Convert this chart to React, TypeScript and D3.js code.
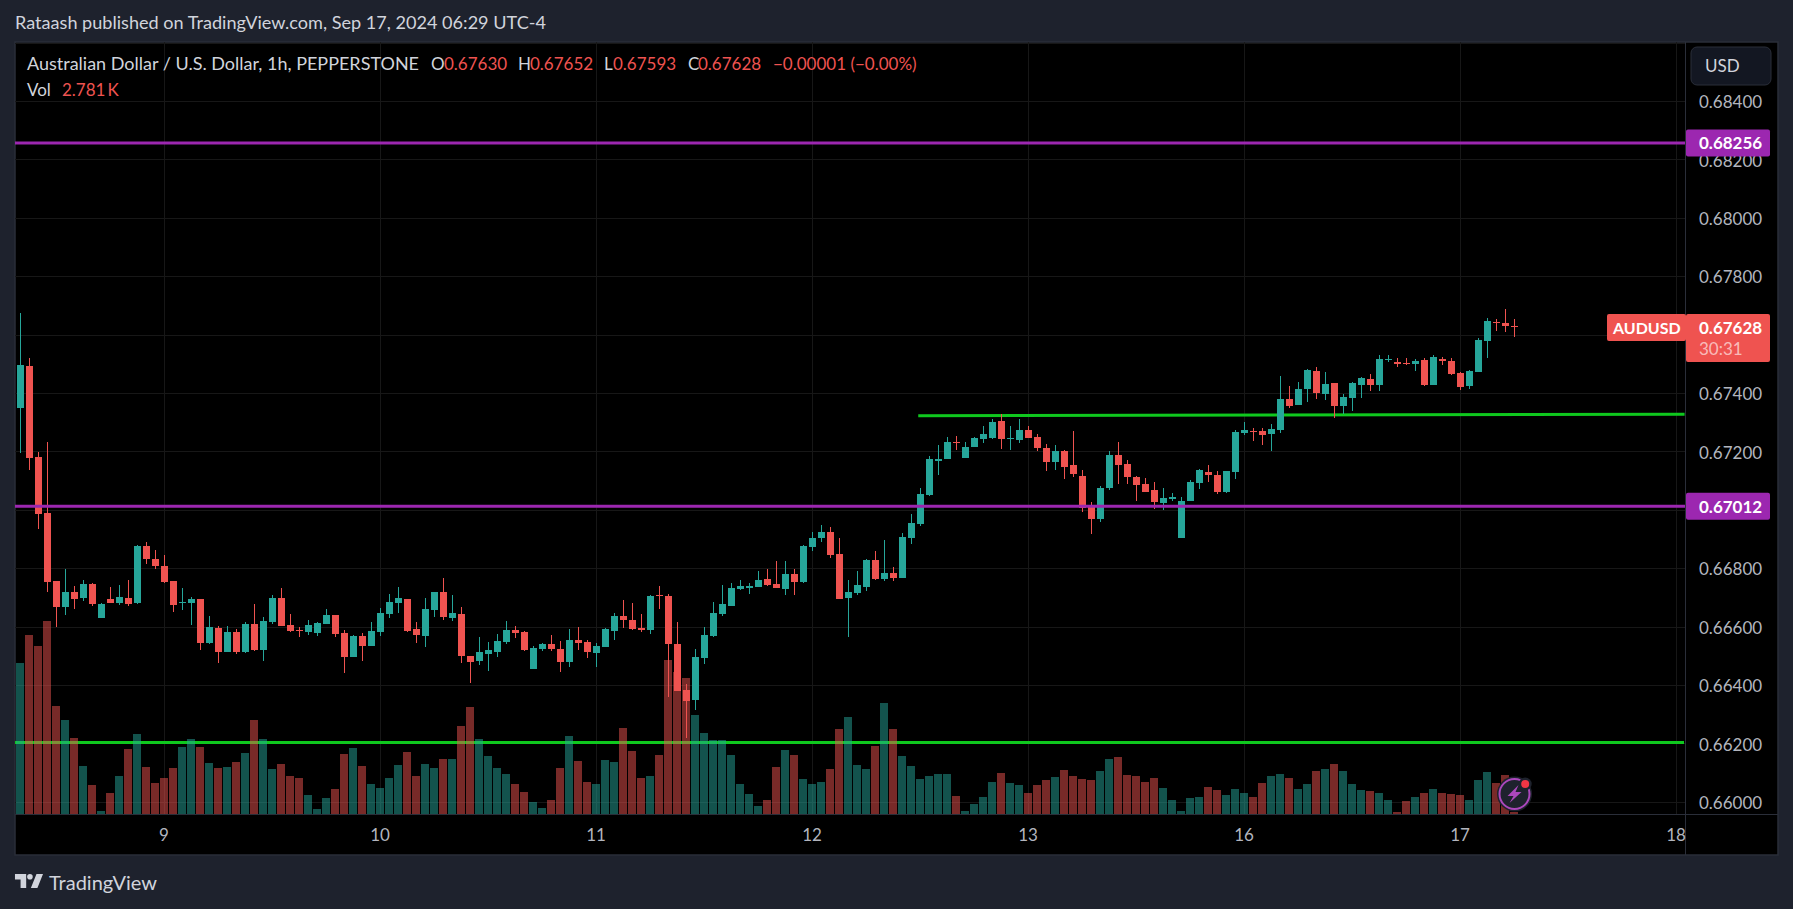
import React, { useRef, useEffect } from "react";
import * as d3 from "d3";

// prices are in points (1 point = 0.00001), one entry per hourly bar
const opens = [
  67350, 67493, 67181, 66989, 66755, 66667, 66719, 66698, 66746, 66630,
  66695, 66681, 66698, 66681, 66876, 66832, 66808, 66755, 66681, 66681,
  66695, 66544, 66595, 66513, 66582, 66513, 66609, 66520, 66616, 66698,
  66606, 66589, 66582, 66578, 66609, 66640, 66578, 66496, 66568, 66534,
  66582, 66643, 66681, 66695, 66592, 66568, 66657, 66719, 66630, 66643,
  66500, 66482, 66506, 66513, 66548, 66589, 66582, 66455, 66524, 66541,
  66524, 66479, 66554, 66548, 66510, 66530, 66585, 66637, 66623, 66595,
  66589, 66709, 66705, 66541, 66383, 66349, 66493, 66568, 66643, 66671,
  66729, 66732, 66736, 66763, 66746, 66729, 66780, 66753, 66873, 66904,
  66924, 66849, 66698, 66715, 66736, 66828, 66763, 66784, 66767, 66904,
  66952, 67051, 67167, 67174, 67233, 67178, 67215, 67243, 67246, 67304,
  67243, 67239, 67274, 67250, 67212, 67164, 67202, 67154, 67116, 67010,
  66969, 67075, 67188, 67157, 67113, 67089, 67068, 67024, 67037, 66904,
  67030, 67092, 67130, 67120, 67061, 67130, 67263, 67270, 67270, 67260,
  67274, 67380, 67359, 67414, 67476, 67397, 67434, 67356, 67383, 67428,
  67448, 67428, 67513, 67507, 67503, 67500, 67513, 67428, 67517, 67510,
  67469, 67424, 67472, 67578, 67644, 67640, 67630,
];
const highs = [
  67673, 67519, 67197, 67232, 66756, 66797, 66739, 66760, 66749, 66681,
  66736, 66743, 66760, 66880, 66890, 66863, 66846, 66756, 66732, 66702,
  66696, 66637, 66602, 66602, 66592, 66616, 66678, 66633, 66709, 66732,
  66643, 66599, 66623, 66616, 66661, 66641, 66589, 66572, 66578, 66616,
  66664, 66712, 66736, 66696, 66616, 66698, 66720, 66767, 66709, 66667,
  66501, 66565, 66548, 66575, 66619, 66602, 66585, 66534, 66544, 66572,
  66551, 66592, 66599, 66554, 66544, 66595, 66647, 66691, 66681, 66643,
  66709, 66739, 66712, 66616, 66404, 66524, 66599, 66685, 66743, 66750,
  66760, 66750, 66791, 66798, 66825, 66825, 66798, 66880, 66924, 66948,
  66941, 66904, 66760, 66791, 66832, 66859, 66897, 66804, 66921, 66986,
  67075, 67185, 67222, 67250, 67253, 67233, 67250, 67287, 67311, 67328,
  67287, 67311, 67287, 67260, 67226, 67222, 67205, 67270, 67137, 67027,
  67082, 67202, 67233, 67171, 67116, 67109, 67096, 67075, 67058, 67044,
  67102, 67140, 67154, 67133, 67133, 67274, 67301, 67281, 67281, 67294,
  67459, 67424, 67438, 67483, 67489, 67472, 67435, 67397, 67438, 67455,
  67465, 67531, 67531, 67520, 67520, 67517, 67520, 67531, 67524, 67520,
  67472, 67479, 67589, 67657, 67654, 67688, 67652,
];
const lows = [
  67196, 67137, 66935, 66720, 66597, 66640, 66661, 66688, 66671, 66630,
  66680, 66674, 66671, 66678, 66815, 66798, 66750, 66650, 66657, 66606,
  66520, 66541, 66476, 66513, 66506, 66510, 66517, 66482, 66609, 66601,
  66582, 66565, 66572, 66568, 66609, 66565, 66441, 66495, 66482, 66533,
  66568, 66630, 66647, 66582, 66544, 66530, 66633, 66623, 66619, 66476,
  66407, 66469, 66448, 66496, 66541, 66561, 66517, 66455, 66517, 66517,
  66445, 66462, 66520, 66493, 66462, 66529, 66554, 66595, 66589, 66582,
  66575, 66661, 66359, 66379, 66219, 66315, 66472, 66565, 66637, 66671,
  66726, 66712, 66736, 66739, 66732, 66709, 66709, 66750, 66859, 66890,
  66835, 66694, 66565, 66709, 66722, 66760, 66756, 66756, 66766, 66883,
  66945, 67048, 67120, 67173, 67205, 67178, 67214, 67229, 67243, 67209,
  67205, 67229, 67245, 67202, 67133, 67137, 67106, 67113, 66993, 66917,
  66959, 67068, 67089, 67089, 67030, 67060, 67003, 67000, 67030, 66903,
  67029, 67072, 67096, 67054, 67058, 67106, 67257, 67236, 67222, 67202,
  67263, 67349, 67358, 67370, 67380, 67376, 67315, 67328, 67339, 67383,
  67407, 67407, 67507, 67489, 67496, 67476, 67424, 67427, 67496, 67462,
  67411, 67414, 67471, 67520, 67613, 67609, 67593,
];
const closes = [
  67496, 67179, 66987, 66754, 66667, 66719, 66695, 66746, 66678, 66678,
  66681, 66702, 66678, 66876, 66832, 66808, 66753, 66674, 66685, 66695,
  66544, 66599, 66513, 66582, 66513, 66609, 66520, 66619, 66698, 66602,
  66585, 66585, 66606, 66613, 66640, 66575, 66496, 66568, 66534, 66585,
  66647, 66685, 66698, 66585, 66572, 66661, 66719, 66633, 66647, 66500,
  66479, 66513, 66520, 66551, 66589, 66578, 66520, 66527, 66541, 66524,
  66479, 66554, 66544, 66513, 66534, 66592, 66637, 66623, 66592, 66589,
  66705, 66705, 66541, 66380, 66345, 66496, 66572, 66647, 66678, 66732,
  66739, 66739, 66760, 66743, 66732, 66780, 66753, 66876, 66904, 66924,
  66846, 66695, 66719, 66743, 66828, 66763, 66784, 66767, 66907, 66955,
  67054, 67174, 67174, 67233, 67229, 67215, 67246, 67260, 67301, 67243,
  67246, 67274, 67246, 67212, 67164, 67202, 67147, 67123, 67007, 66969,
  67075, 67188, 67154, 67113, 67085, 67061, 67027, 67041, 67044, 67030,
  67096, 67137, 67120, 67061, 67132, 67267, 67274, 67267, 67257, 67277,
  67380, 67356, 67414, 67479, 67400, 67431, 67356, 67387, 67435, 67452,
  67428, 67517, 67517, 67500, 67500, 67510, 67428, 67524, 67510, 67465,
  67421, 67476, 67582, 67647, 67640, 67629, 67628,
];
// volume in thousands
const volumes = [
  17.7, 20.5, 19.4, 21.9, 13.4, 12.0, 10.2, 7.4, 5.5, 2.9,
  4.7, 6.4, 9.1, 10.6, 7.3, 5.7, 6.2, 7.2, 9.3, 10.1,
  9.3, 7.7, 7.2, 7.3, 7.8, 8.7, 12.0, 10.1, 7.1, 7.6,
  6.4, 6.2, 4.5, 3.1, 4.2, 5.1, 8.6, 9.2, 7.4, 5.6,
  5.2, 6.2, 7.5, 8.8, 6.4, 7.6, 7.2, 8.1, 8.1, 11.4,
  13.3, 10.1, 8.4, 7.2, 6.6, 5.6, 4.8, 3.8, 3.2, 4.0,
  7.2, 10.4, 7.9, 5.8, 5.6, 8.0, 7.8, 11.2, 8.9, 6.2,
  6.4, 8.5, 18.0, 16.8, 16.2, 12.5, 10.7, 10.0, 10.0, 8.5,
  5.6, 4.6, 3.4, 4.0, 7.3, 9.0, 8.5, 6.1, 5.6, 5.8,
  7.1, 11.1, 12.3, 7.5, 7.1, 9.4, 13.7, 11.1, 8.4, 7.4,
  6.1, 6.4, 6.6, 6.6, 4.4, 2.9, 3.6, 4.3, 5.8, 6.7,
  5.7, 5.5, 4.7, 5.5, 6.0, 6.3, 7.0, 6.4, 6.1, 6.0,
  6.9, 8.1, 8.3, 6.5, 6.4, 5.8, 6.2, 5.2, 4.0, 2.9,
  4.2, 4.3, 5.3, 5.0, 4.5, 5.1, 4.7, 4.3, 5.7, 6.4,
  6.6, 6.2, 5.1, 5.6, 6.9, 7.1, 7.6, 6.9, 5.6, 5.0,
  4.9, 4.7, 4.0, 2.8, 3.9, 4.3, 4.7, 5.1, 4.7, 4.6,
  4.5, 4.0, 6.0, 6.8, 5.7, 6.5, 2.8,
];

const gridPrices = [68600, 68400, 68200, 68000, 67800, 67600, 67400, 67200, 67000, 66800, 66600, 66400, 66200, 66000];
// 0.67600 and 0.67000 are hidden behind the tags
const priceTicks = [68400, 68200, 68000, 67800, 67400, 67200, 66800, 66600, 66400, 66200, 66000];
const dayBars = [16, 40, 64, 88, 112, 136, 160, 184];
const dayLabels = ["9", "10", "11", "12", "13", "16", "17", "18"];
const purpleLevels = [68256, 67012];
const greenFlat = 66203;
const greenTrend = [
  { bar: 99.75, price: 67322 },
  { bar: 184.9, price: 67327 },
];
const legendRow = [
  { x: 431, text: "O", red: false },
  { x: 444, text: "0.67630", red: true },
  { x: 518, text: "H", red: false },
  { x: 530, text: "0.67652", red: true },
  { x: 604, text: "L", red: false },
  { x: 613, text: "0.67593", red: true },
  { x: 688, text: "C", red: false },
  { x: 698, text: "0.67628", red: true },
  { x: 773, text: "\u22120.00001 (\u22120.00%)", red: true },
];

const FONT = "Lato, 'Open Sans', sans-serif";
const UP = "#26a69a";
const DOWN = "#ef5350";
const PURPLE = "#9c27b0";
const GREEN = "#0fc81e";

const App = () => {
  const svgRef = useRef<SVGSVGElement | null>(null);

  useEffect(() => {
    const width = 1793;
    const height = 909;
    const pane = { left: 15, right: 1685, top: 42, bottom: 814, axisRight: 1778, axisBottom: 855 };

    const svg = d3.select(svgRef.current).attr("width", width).attr("height", height);
    svg.selectAll("*").remove();

    const xScale = d3.scaleLinear().domain([0, 24]).range([20.5, 236.5]);
    const yScale = d3.scaleLinear().domain([68400, 66000]).range([101, 801.8]);
    const volScale = d3.scaleLinear().domain([2.6, 21.9]).range([814, 621]);
    const px = (v: number) => Math.round(v);

    svg.append("rect").attr("width", width).attr("height", height).attr("fill", "#1e222d");
    svg
      .append("rect")
      .attr("x", pane.left)
      .attr("y", pane.top)
      .attr("width", pane.axisRight - pane.left)
      .attr("height", pane.axisBottom - pane.top)
      .attr("fill", "#000")
      .attr("stroke", "#2a2e39")
      .attr("stroke-width", 1.5);

    const defs = svg.append("defs");
    defs
      .append("clipPath")
      .attr("id", "pane-clip")
      .append("rect")
      .attr("x", pane.left)
      .attr("y", pane.top)
      .attr("width", pane.right - pane.left)
      .attr("height", pane.bottom - pane.top);

    const plot = svg.append("g").attr("clip-path", "url(#pane-clip)");

    // grid
    plot
      .selectAll(".grid-x")
      .data(dayBars)
      .enter()
      .append("rect")
      .attr("x", (d) => px(xScale(d) - 0.5))
      .attr("y", pane.top)
      .attr("width", 1)
      .attr("height", pane.bottom - pane.top)
      .attr("fill", "#171717");
    plot
      .selectAll(".grid-y")
      .data(gridPrices)
      .enter()
      .append("rect")
      .attr("x", pane.left)
      .attr("y", (d) => px(yScale(d)))
      .attr("width", pane.right - pane.left)
      .attr("height", 1)
      .attr("fill", "#171717");

    // green levels sit under the volume and the candles
    plot
      .append("line")
      .attr("x1", pane.left)
      .attr("x2", pane.right - 1)
      .attr("y1", yScale(greenFlat))
      .attr("y2", yScale(greenFlat))
      .attr("stroke", GREEN)
      .attr("stroke-width", 3);
    plot
      .append("path")
      .attr("d", d3.line<{ bar: number; price: number }>()
        .x((d) => xScale(d.bar))
        .y((d) => yScale(d.price))(greenTrend))
      .attr("stroke", GREEN)
      .attr("stroke-width", 3)
      .attr("fill", "none");

    const bars = d3.range(opens.length).map((i) => ({
      i,
      open: opens[i],
      high: highs[i],
      low: lows[i],
      close: closes[i],
      vol: volumes[i],
      up: closes[i] >= opens[i],
    }));

    // volume
    plot
      .selectAll(".vol")
      .data(bars)
      .enter()
      .append("rect")
      .attr("x", (d) => px(xScale(d.i) - 4.5))
      .attr("y", (d) => px(volScale(d.vol)))
      .attr("width", 8)
      .attr("height", (d) => pane.bottom - px(volScale(d.vol)))
      .attr("fill", (d) => (d.up ? UP : DOWN))
      .attr("fill-opacity", 0.5);

    // candles
    plot
      .selectAll(".wick")
      .data(bars)
      .enter()
      .append("rect")
      .attr("x", (d) => px(xScale(d.i) - 0.5))
      .attr("y", (d) => px(yScale(d.high)))
      .attr("width", 1)
      .attr("height", (d) => Math.max(1, px(yScale(d.low)) - px(yScale(d.high))))
      .attr("fill", (d) => (d.up ? UP : DOWN));
    plot
      .selectAll(".body")
      .data(bars)
      .enter()
      .append("rect")
      .attr("x", (d) => px(xScale(d.i) - 3.5))
      .attr("y", (d) => px(yScale(Math.max(d.open, d.close))))
      .attr("width", 7)
      .attr("height", (d) => Math.max(1, px(yScale(Math.min(d.open, d.close))) - px(yScale(Math.max(d.open, d.close)))))
      .attr("fill", (d) => (d.up ? UP : DOWN));

    // purple levels are on top of the candles
    plot
      .selectAll(".level")
      .data(purpleLevels)
      .enter()
      .append("line")
      .attr("x1", pane.left)
      .attr("x2", pane.right)
      .attr("y1", (d) => yScale(d))
      .attr("y2", (d) => yScale(d))
      .attr("stroke", PURPLE)
      .attr("stroke-width", 3);

    // axis separators
    svg
      .append("line")
      .attr("x1", pane.right + 0.5)
      .attr("x2", pane.right + 0.5)
      .attr("y1", pane.top)
      .attr("y2", pane.axisBottom)
      .attr("stroke", "#2a2e39");
    svg
      .append("line")
      .attr("x1", pane.left)
      .attr("x2", pane.axisRight)
      .attr("y1", pane.bottom + 0.5)
      .attr("y2", pane.bottom + 0.5)
      .attr("stroke", "#2a2e39");

    // price axis
    const yAxis = d3
      .axisRight(yScale)
      .tickValues(priceTicks)
      .tickSize(0)
      .tickPadding(0)
      .tickFormat((d) => (+d / 1e5).toFixed(5));
    const yG = svg.append("g").attr("transform", "translate(1699,0.8)").call(yAxis);
    yG.select(".domain").remove();
    yG.selectAll("text")
      .attr("fill", "#b2b5be")
      .attr("font-family", FONT)
      .attr("font-size", 17)
      .attr("dy", "0.35em");

    // day axis
    const xAxis = d3
      .axisBottom(xScale)
      .tickValues(dayBars)
      .tickSize(0)
      .tickPadding(0)
      .tickFormat((_, i) => dayLabels[i]);
    const xG = svg.append("g").attr("transform", "translate(-1,835.5)").call(xAxis);
    xG.select(".domain").remove();
    xG.selectAll("text")
      .attr("y", 0)
      .attr("fill", "#b2b5be")
      .attr("font-family", FONT)
      .attr("font-size", 17)
      .attr("dy", "0.35em");

    const label = (x: number, y: number, text: string, fill: string, size = 17, weight = 400) =>
      svg
        .append("text")
        .attr("x", x)
        .attr("y", y)
        .attr("dy", "0.35em")
        .attr("fill", fill)
        .attr("font-family", FONT)
        .attr("font-size", size)
        .attr("font-weight", weight)
        .text(text);

    // level tags on the price axis
    purpleLevels.forEach((d) => {
      const cy = yScale(d);
      svg
        .append("rect")
        .attr("x", 1686)
        .attr("y", cy - 13.5)
        .attr("width", 84)
        .attr("height", 27)
        .attr("rx", 2)
        .attr("fill", PURPLE);
      label(1699, cy + 0.5, (d / 1e5).toFixed(5), "#fff", 17, 700);
    });

    svg.append("rect").attr("x", 1607).attr("y", 314).attr("width", 79).attr("height", 27).attr("rx", 2).attr("fill", DOWN);
    svg.append("rect").attr("x", 1686).attr("y", 314).attr("width", 84).attr("height", 48).attr("rx", 2).attr("fill", DOWN);
    label(1613, 328, "AUDUSD", "#fff", 16, 700);
    label(1699, 328, (closes[closes.length - 1] / 1e5).toFixed(5), "#fff", 17, 700);
    label(1699, 349.3, "30:31", "#ffffff", 17).attr("fill-opacity", 0.62);

    // currency button
    svg
      .append("rect")
      .attr("x", 1691)
      .attr("y", 47)
      .attr("width", 80)
      .attr("height", 38)
      .attr("rx", 6)
      .attr("fill", "#131722")
      .attr("stroke", "#2a2e39");
    label(1705, 66, "USD", "#d1d4dc", 17);

    // header and legend
    label(15, 22.5, "Rataash published on TradingView.com, Sep 17, 2024 06:29 UTC-4", "#d1d4dc", 18.1);
    label(27, 64, "Australian Dollar / U.S. Dollar, 1h, PEPPERSTONE", "#d1d4dc", 18);
    legendRow.forEach((d) => label(d.x, 64, d.text, d.red ? DOWN : "#d1d4dc", 17));
    label(27, 90, "Vol", "#d1d4dc", 17);
    label(62, 90, "2.781\u2009K", DOWN, 17);

    // TradingView mark
    svg
      .append("path")
      .attr("d", "M14 6H2v6h6v9h6V6zm12 15h-7l6-15h7l-6 15zm-8-9a3 3 0 1 0 0-6 3 3 0 0 0 0 6z")
      .attr("transform", "translate(13.1,868.4) scale(0.935)")
      .attr("fill", "#d1d4dc");
    label(49, 883, "TradingView", "#d1d4dc", 20);

    // bolt badge on the last bar
    const bx = xScale(166);
    const by = 794;
    svg.append("circle").attr("cx", bx).attr("cy", by).attr("r", 17.5).attr("fill", "#1e222d");
    svg.append("circle").attr("cx", bx).attr("cy", by).attr("r", 15).attr("fill", "#1e222d").attr("stroke", "#ab47bc").attr("stroke-width", 2);
    svg
      .append("path")
      .attr("d", "M4 -9 L-7 2 L-1 2 L-5 9 L7 -2 L1 -2 Z")
      .attr("transform", `translate(${bx},${by})`)
      .attr("fill", "#ab47bc");
    svg.append("circle").attr("cx", bx + 10.7).attr("cy", by - 10).attr("r", 6.5).attr("fill", "#1e222d");
    svg.append("circle").attr("cx", bx + 10.7).attr("cy", by - 10).attr("r", 4).attr("fill", "#f23645");
  }, []);

  return <svg ref={svgRef} style={{ position: "absolute", left: 0, top: 0, display: "block" }} />;
};

export default App;
